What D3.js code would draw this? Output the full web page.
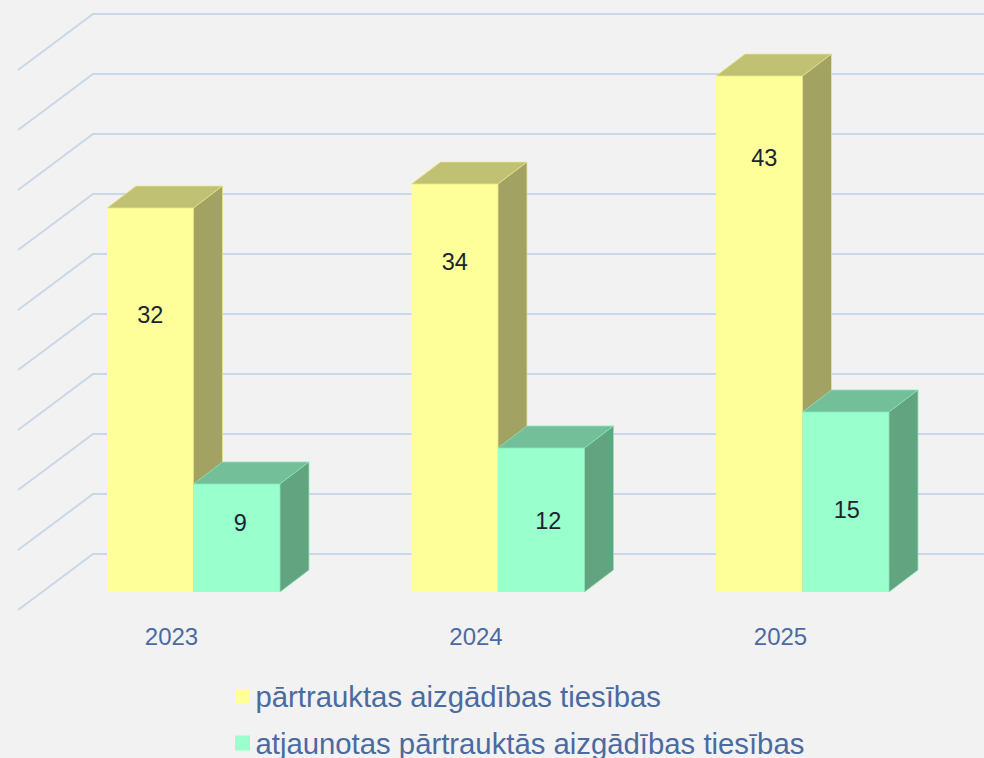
<!DOCTYPE html>
<html>
<head>
<meta charset="utf-8">
<script src="https://cdn.jsdelivr.net/npm/d3@7"></script>
<style>
  html, body { margin: 0; padding: 0; background: #f2f2f2; }
  svg { display: block; }
</style>
</head>
<body>
<svg id="chart" width="984" height="758"></svg>
<script>
// ---- data ----
const categories = ["2023", "2024", "2025"];
const seriesNames = ["pārtrauktas aizgādības tiesības", "atjaunotas pārtrauktās aizgādības tiesības"];
const seriesA = [32, 34, 43];   // pārtrauktas
const seriesB = [9, 12, 15];    // atjaunotas
const gridTicks = [0, 5, 10, 15, 20, 25, 30, 35, 40, 45];

// ---- layout/style constants ----
const W = 984, H = 758;
const colors = [
  { front: "#ffff99", top: "#c0c173", side: "#a2a362", edge: "#e6e68a" },
  { front: "#99ffcc", top: "#73bf99", side: "#62a380", edge: "#8ae6b8" }
];
const depth = { dx: 29, dy: 22 };     // bar depth
const wall = { dx: 75, dy: 56, front: 18 }; // back wall offset
// label placement: vertical fraction of bar height (from base) and small horizontal nudges
const labelFracA = [0.723, 0.81, 0.841];
const labelFracB = [0.645, 0.495, 0.46];
const labelDxA = [0, 0, 5];
const labelDxB = [3.5, 7, 1];

const svg = d3.select("#chart");
svg.append("rect").attr("width", W).attr("height", H).attr("fill", "#f2f2f2");

const x = d3.scaleBand().domain(categories).range([18, 978]).paddingInner(0.432).paddingOuter(0.2923);
const inner = d3.scaleBand().domain([0, 1]).range([0, x.bandwidth()]);
const y = d3.scaleLinear().domain([0, 45]).range([592, 52]);

// ---- gridlines (back wall + left wall diagonals) ----
const grid = svg.append("g").attr("fill", "none").attr("stroke", "#cad7e8").attr("stroke-width", 2);
gridTicks.forEach(t => {
  const yb = y(t) - (wall.dy - wall.front);
  const xb = 18 + wall.dx;
  grid.append("path").attr("d", `M18,${yb + wall.dy} L${xb},${yb} L${W},${yb}`);
});

// ---- bars ----
const bars = svg.append("g");
function drawBar(x0, w, v, c) {
  const yt = y(v), yb = y(0);
  const g = bars.append("g");
  g.append("rect").attr("x", x0).attr("y", yt).attr("width", w).attr("height", yb - yt).attr("fill", c.front);
  g.append("path").attr("d", `M${x0},${yt} L${x0 + depth.dx},${yt - depth.dy} L${x0 + w + depth.dx},${yt - depth.dy} L${x0 + w},${yt} Z`)
    .attr("fill", c.top).attr("stroke", c.edge).attr("stroke-width", 0.8).attr("stroke-linejoin", "round");
  g.append("path").attr("d", `M${x0 + w},${yt} L${x0 + w + depth.dx},${yt - depth.dy} L${x0 + w + depth.dx},${yb - depth.dy} L${x0 + w},${yb} Z`)
    .attr("fill", c.side).attr("stroke", c.edge).attr("stroke-width", 0.8).attr("stroke-linejoin", "round");
}
categories.forEach((cat, i) => {
  const gx = x(cat);
  drawBar(gx + inner(0), inner.bandwidth(), seriesA[i], colors[0]);
  drawBar(gx + inner(1), inner.bandwidth(), seriesB[i], colors[1]);
});

// ---- value labels ----
const labels = svg.append("g").attr("font-family", "'Liberation Sans', Arial, sans-serif")
  .attr("font-size", 23.5).attr("fill", "#1c2230").attr("text-anchor", "middle");
categories.forEach((cat, i) => {
  const gx = x(cat);
  const wA = inner.bandwidth();
  [[seriesA, labelFracA, labelDxA, 0], [seriesB, labelFracB, labelDxB, 1]].forEach(([s, f, dx, k]) => {
    const v = s[i];
    const cy = y(0) - (y(0) - y(v)) * f[i];
    labels.append("text").attr("x", gx + inner(k) + wA / 2 + dx[i]).attr("y", cy + 8.4).text(v);
  });
});

// ---- category axis labels ----
svg.append("g").attr("font-family", "'Liberation Sans', Arial, sans-serif")
  .attr("font-size", 24).attr("fill", "#4a6aa0").attr("text-anchor", "middle")
  .selectAll("text").data(categories).join("text")
  .attr("x", d => x(d) + x.bandwidth() / 2 - 22).attr("y", 645).text(d => d);

// ---- legend ----
const legend = svg.append("g").attr("font-family", "'Liberation Sans', Arial, sans-serif")
  .attr("font-size", 29.3).attr("fill", "#4a6aa0");
seriesNames.forEach((name, i) => {
  const ly = 707 + i * 46.5;
  legend.append("rect").attr("x", 235).attr("y", ly - 18).attr("width", 15).attr("height", 15).attr("fill", colors[i].front);
  legend.append("text").attr("x", 255.5).attr("y", ly).text(name);
});
</script>
</body>
</html>
